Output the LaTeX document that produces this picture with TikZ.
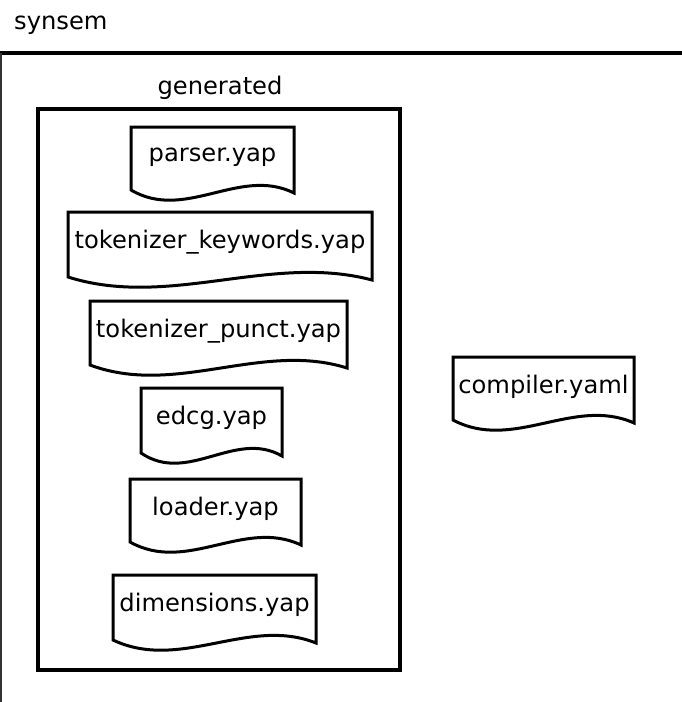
\documentclass[tikz,border=0pt]{standalone}
\usepackage{fontspec}
\setmainfont{DejaVu Sans}
\tikzset{
  docline/.style={draw=black, line width=3pt, line join=miter},
  doclabel/.style={inner sep=0pt, font=\fontsize{24.2}{28}\selectfont},
  framelabel/.style={inner sep=0pt, font=\fontsize{24.2}{28}\selectfont},
}
% name, left, top, right, bottom-left, text
\newcommand{\docbox}[6]{%
  \draw[docline] (#2,#5) -- (#2,#3) -- (#4,#3) -- (#4,#5+3)
    .. controls ({#4-(#4-#2)/3},#5-24) and ({#2+(#4-#2)/3},#5+32) .. cycle;
  \node[doclabel] (#1) at ({(#2+#4)/2},#3+30) {#6};
}
\begin{document}
\begin{tikzpicture}[x=1pt,y=-1pt]
\useasboundingbox (0,0) rectangle (682,702);
\fill[white] (0,0) rectangle (682,702);
% outer frame
\node[framelabel, anchor=west] (synsem) at (14,25) {synsem};
\draw[line width=4pt] (0,53) -- (682,53);
\draw[line width=1.6pt, black!80] (1,53) -- (1,702);
% generated box
\node[framelabel] (generated) at (220,88) {generated};
\draw[line width=3.5pt] (38,109) rectangle (400,670);
\docbox{parser}{131}{127}{294}{190}{parser.yap}
\docbox{tokkw}{68}{212}{372}{277}{tokenizer\_keywords.yap}
\docbox{tokpunct}{90}{301}{347}{365}{tokenizer\_punct.yap}
\docbox{edcg}{141}{388}{282}{453}{edcg.yap}
\docbox{loader}{130}{479}{301}{542}{loader.yap}
\docbox{dims}{113}{575}{316}{640}{dimensions.yap}
\docbox{compiler}{453}{357}{634}{420}{compiler.yaml}
\end{tikzpicture}
\end{document}
